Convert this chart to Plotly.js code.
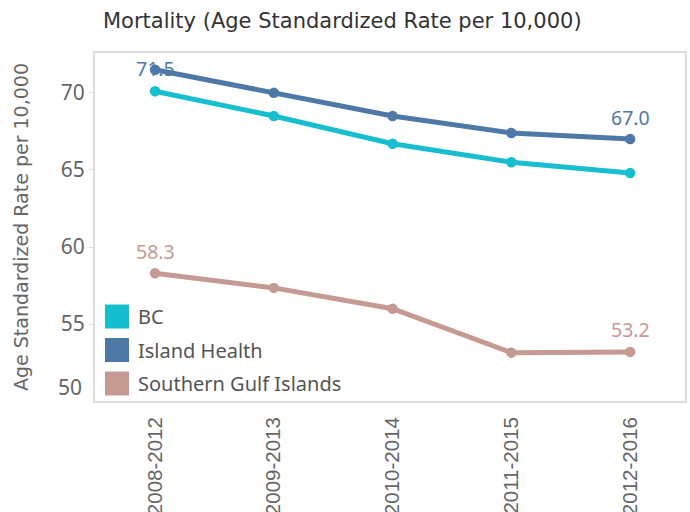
<!DOCTYPE html>
<html>
<head>
<meta charset="utf-8">
<script src="https://cdn.plot.ly/plotly-3.0.1.min.js"></script>
<style>html,body{margin:0;padding:0;background:#fff;}#chart{width:690px;height:512px;}</style>
</head>
<body>
<div id="chart"></div>
<script>
const periods = ["2008-2012", "2009-2013", "2010-2014", "2011-2015", "2012-2016"];
const seriesNames = ["BC", "Island Health", "Southern Gulf Islands"];
const bcValues = [70.1, 68.5, 66.7, 65.5, 64.8];
const islandHealthValues = [71.5, 70.0, 68.5, 67.4, 67.0];
const sgiValues = [58.3, 57.35, 56.0, 53.15, 53.2];
const seriesColors = ["#17becf", "#4e79a7", "#c49a92"];
const yTicks = [55, 60, 65, 70];

const allValues = [bcValues, islandHealthValues, sgiValues];
const traces = allValues.map((vals, i) => ({
  type: "scatter",
  mode: "lines+markers",
  name: seriesNames[i],
  x: periods,
  y: vals,
  line: {color: seriesColors[i], width: 5},
  marker: {color: seriesColors[i], size: 10.5},
  showlegend: false,
  hoverinfo: "x+y+name"
}));

const annotations = [];
[[islandHealthValues, 1], [sgiValues, 2]].forEach(([vals, ci]) => {
  [0, vals.length - 1].forEach(idx => {
    annotations.push({
      x: periods[idx], y: vals[idx], xref: "x", yref: "y",
      text: vals[idx].toFixed(1), showarrow: false,
      yshift: (ci === 1 && idx === 0) ? 1 : 22,
      font: {family: "Noto Sans, sans-serif", size: 19.5, color: seriesColors[ci]}
    });
  });
});
annotations.push({
  x: 0, xref: "paper", xanchor: "right", xshift: -10,
  y: 50, yref: "y", yanchor: "middle", yshift: 14,
  text: "50", showarrow: false,
  font: {family: "Noto Sans, sans-serif", size: 21, color: "#666"}
});
const shapes = [];
seriesNames.forEach((name, i) => {
  const cy = 316.5 + i * 33.5;
  shapes.push({
    type: "rect", xref: "paper", yref: "paper",
    x0: (105 - 94) / 592, x1: (129 - 94) / 592,
    y0: (402 - (cy + 12)) / 350, y1: (402 - (cy - 12)) / 350,
    fillcolor: seriesColors[i], line: {width: 0}
  });
  annotations.push({
    xref: "paper", yref: "paper",
    x: (136 - 94) / 592, xanchor: "left",
    y: (402 - cy) / 350, yanchor: "middle",
    text: name, showarrow: false,
    font: {family: "Noto Sans, sans-serif", size: 20, color: "#555"}
  });
});
shapes.push({type: "rect", xref: "paper", yref: "paper", x0: 0, x1: 1, y0: 0, y1: 1,
  line: {color: "#d4d4d4", width: 1.5}, fillcolor: "rgba(0,0,0,0)"});

const layout = {
  width: 690, height: 512,
  margin: {l: 94, r: 4, t: 52, b: 110},
  paper_bgcolor: "#fff", plot_bgcolor: "#fff",
  showlegend: false,
  title: {
    text: "Mortality (Age Standardized Rate per 10,000)",
    x: 103 / 690, xanchor: "left", y: 1 - 21 / 512, yanchor: "middle",
    font: {family: "DejaVu Sans, sans-serif", size: 21, color: "#333"}
  },
  xaxis: {
    type: "category",
    range: [-0.514, 4.47],
    tickangle: -90,
    ticks: "", showgrid: false, zeroline: false, showline: false,
    tickfont: {family: "Liberation Sans, Arial, sans-serif", size: 20.5, color: "#666"},
    ticklabelstandoff: 10
  },
  yaxis: {
    range: [49.95, 72.65],
    tickvals: yTicks,
    ticktext: yTicks.map(String),
    ticks: "outside", ticklen: 4, tickcolor: "#ddd",
    showgrid: false, zeroline: false, showline: false,
    tickfont: {family: "Noto Sans, sans-serif", size: 21, color: "#666"},
    title: {text: "Age Standardized Rate per 10,000", standoff: 27,
      font: {family: "DejaVu Sans, sans-serif", size: 19, color: "#666"}}
  },
  annotations: annotations,
  shapes: shapes
};

Plotly.newPlot("chart", traces, layout, {displayModeBar: false, staticPlot: true});
</script>
</body>
</html>
